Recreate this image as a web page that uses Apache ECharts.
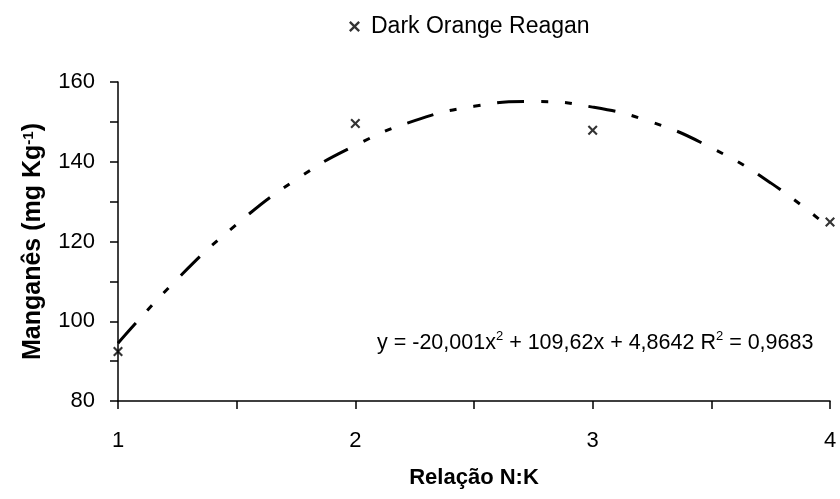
<!DOCTYPE html>
<html>
<head>
<meta charset="utf-8">
<script src="https://cdn.jsdelivr.net/npm/echarts@6/dist/echarts.min.js"></script>
<style>html,body{margin:0;padding:0;background:#fff}#c{width:840px;height:499px}</style>
</head>
<body>
<div id="c"></div>
<script>
// Observed data (Relação N:K vs Manganês)
const seriesName = 'Dark Orange Reagan';
const xValues = [1, 2, 3, 4];
const yValues = [92.4, 149.6, 147.9, 124.9];
// Trend line (polynomial fit drawn in the reference)
const trendX = [1, 1.25, 1.5, 1.75, 2, 2.25, 2.5, 2.75, 3, 3.25, 3.5, 3.75, 4];
const trendY = [94.5, 110.6, 124.3, 135.5, 144.1, 150.3, 153.9, 155.1, 153.7, 149.9, 143.5, 134.7, 123.3];
const xTickLabels = ['1', '2', '3', '4'];
const yTickLabels = ['80', '100', '120', '140', '160'];
const equationText = '{n|y = -20,001x}{s|2}{n| + 109,62x + 4,8642 R}{s|2}{n| = 0,9683}';

const FONT = 'Liberation Sans, Arial, sans-serif';
const FS = 22;
const crossPath = 'path://M0,1.5L1.5,0L5,3.5L8.5,0L10,1.5L6.5,5L10,8.5L8.5,10L5,6.5L1.5,10L0,8.5L3.5,5Z';

const chart = echarts.init(document.getElementById('c'), null, {renderer: 'canvas'});
chart.setOption({
  backgroundColor: '#ffffff',
  animation: false,
  textStyle: {fontFamily: FONT, color: '#000'},
  legend: {
    data: [{name: seriesName, icon: crossPath}],
    left: 344, top: 10,
    itemWidth: 11, itemHeight: 11, itemGap: 6,
    textStyle: {fontFamily: FONT, fontSize: 23, color: '#000', padding: [0, 0, 0, 6]}
  },
  grid: {left: 118, right: 10, top: 82, bottom: 98, containLabel: false},
  xAxis: {
    type: 'value', min: 1, max: 4, interval: 0.5,
    name: 'Relação N:K', nameLocation: 'middle', nameGap: 66,
    nameTextStyle: {fontFamily: FONT, fontSize: FS, fontWeight: 'bold', color: '#000'},
    axisLine: {show: true, lineStyle: {color: '#000', width: 1.5}},
    axisTick: {show: true, inside: false, length: 8, lineStyle: {color: '#000', width: 1.5}},
    axisLabel: {
      fontFamily: FONT, fontSize: FS, color: '#000', margin: 29,
      formatter: v => { const i = xTickLabels.indexOf(String(v)); return i >= 0 ? xTickLabels[i] : ''; }
    },
    splitLine: {show: false}
  },
  yAxis: {
    type: 'value', min: 80, max: 160, interval: 10,
    name: 'Manganês (mg Kg{sup|-1})', nameLocation: 'middle', nameGap: 72, nameRotate: 90,
    nameTextStyle: {
      fontFamily: FONT, fontSize: 25, fontWeight: 'bold', color: '#000',
      rich: {sup: {fontFamily: FONT, fontSize: 15, fontWeight: 'bold', verticalAlign: 'top', lineHeight: 16, color: '#000'}}
    },
    axisLine: {show: true, lineStyle: {color: '#000', width: 1.5}},
    axisTick: {show: true, inside: false, length: 8, lineStyle: {color: '#000', width: 1.5}},
    axisLabel: {
      fontFamily: FONT, fontSize: FS, color: '#000', margin: 23,
      formatter: v => { const i = yTickLabels.indexOf(String(v)); return i >= 0 ? yTickLabels[i] : ''; }
    },
    splitLine: {show: false}
  },
  series: [
    {
      name: 'trend', type: 'line', smooth: true, showSymbol: false, silent: true,
      data: trendX.map((x, i) => [x, trendY[i]]),
      lineStyle: {color: '#000', width: 3, type: [27, 17, 7, 17, 7, 17], cap: 'butt'},
      z: 2
    },
    {
      name: seriesName, type: 'scatter', symbol: crossPath, symbolSize: 10,
      data: xValues.map((x, i) => [x, yValues[i]]),
      itemStyle: {color: '#000'},
      z: 3
    }
  ],
  graphic: [{
    type: 'text', x: 377, y: 343,
    style: {
      text: equationText,
      verticalAlign: 'middle',
      rich: {
        n: {fontFamily: FONT, fontSize: 21.5, color: '#000', lineHeight: 26},
        s: {fontFamily: FONT, fontSize: 13, color: '#000', verticalAlign: 'top', lineHeight: 14}
      }
    }
  }]
});
</script>
</body>
</html>
